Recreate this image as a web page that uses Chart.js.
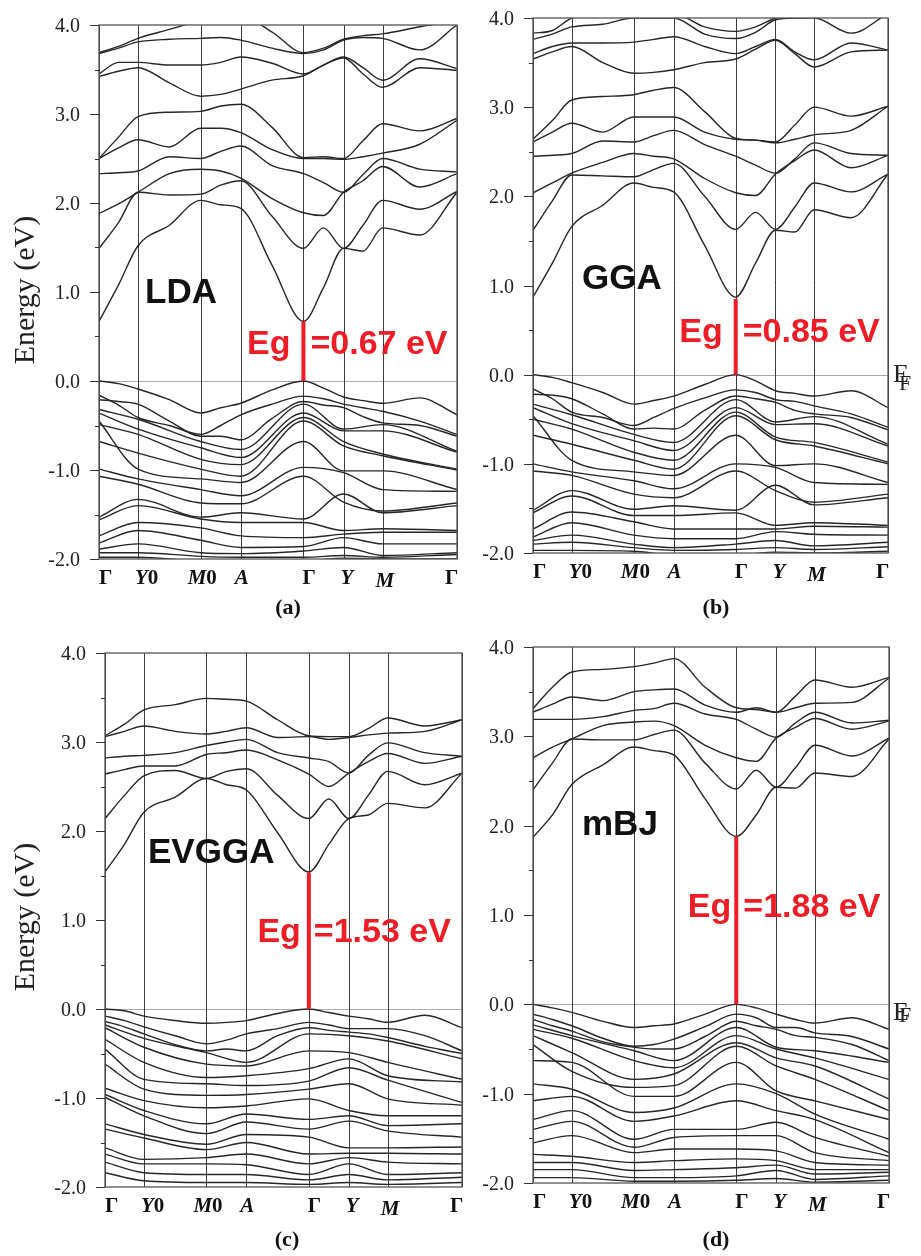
<!DOCTYPE html>
<html>
<head>
<meta charset="utf-8">
<title>Band structures</title>
<script src="https://cdn.jsdelivr.net/npm/chart.js@4.4.1/dist/chart.umd.min.js"></script>
<style>
  html, body { margin: 0; padding: 0; background: #fff; }
  #wrap { position: relative; width: 921px; height: 1256px; }
  #wrap canvas { position: absolute; left: 0; top: 0; }
</style>
</head>
<body>
<div id="wrap">
  <canvas id="ldaPlot" width="921" height="1256"></canvas>
  <canvas id="ggaPlot" width="921" height="1256"></canvas>
  <canvas id="evggaPlot" width="921" height="1256"></canvas>
  <canvas id="mbjPlot" width="921" height="1256"></canvas>
</div>
<script>
/* ==============================
   K-PATH
================================ */
const kLabels = ["Γ", "Y0", "M0", "A", "Γ", "Y", "M", "Γ"];
const kTicks = [0, 0.109, 0.284, 0.396, 0.571, 0.683, 0.792, 1];
const energyTicks = [-2, -1.5, -1, -0.5, 0, 0.5, 1, 1.5, 2, 2.5, 3, 3.5, 4];

// sampling along the path: every high-symmetry point plus the halfway point of each leg
const kGrid = [];
kTicks.forEach((k, i) => {
    kGrid.push(k);
    if (i < kTicks.length - 1) kGrid.push((k + kTicks[i + 1]) / 2);
});

/* ==============================
   BAND GAPS (eV)
================================ */
const methods = ["LDA", "GGA", "EVGGA", "mBJ"];
const gaps = [0.67, 0.85, 1.53, 1.88];

/* ==============================
   CONDUCTION BANDS
   one row per band, on kGrid: Γ . Y0 . M0 . A . Γ . Y . M . Γ
================================ */
const ldaConduction = [
    [0.67, 1.08, 1.52, 1.75, 2.03, 1.98, 1.94, 1.30, 0.67, 1.05, 1.49, 1.46, 1.72, 1.64, 2.12],
    [1.49, 1.78, 2.12, 2.09, 2.10, 2.20, 2.25, 1.85, 1.49, 1.72, 1.49, 1.75, 2.03, 1.93, 2.13],
    [1.88, 1.99, 2.12, 2.33, 2.38, 2.36, 2.28, 2.05, 1.89, 1.86, 2.12, 2.25, 2.41, 2.18, 2.33],
    [2.33, 2.34, 2.36, 2.52, 2.50, 2.58, 2.64, 2.42, 2.33, 2.23, 2.12, 2.32, 2.50, 2.38, 2.35],
    [2.50, 2.62, 2.71, 2.63, 2.84, 2.84, 2.79, 2.60, 2.50, 2.50, 2.49, 2.52, 2.56, 2.66, 2.93],
    [2.50, 2.74, 2.97, 3.02, 3.03, 3.09, 3.11, 2.85, 2.51, 2.52, 2.50, 2.70, 2.89, 2.81, 2.95],
    [3.42, 3.48, 3.52, 3.35, 3.20, 3.22, 3.28, 3.38, 3.43, 3.55, 3.63, 3.45, 3.30, 3.52, 3.49],
    [3.45, 3.58, 3.58, 3.55, 3.55, 3.58, 3.64, 3.57, 3.45, 3.55, 3.64, 3.52, 3.38, 3.62, 3.51],
    [3.68, 3.74, 3.81, 3.84, 3.85, 3.86, 3.83, 3.74, 3.68, 3.72, 3.83, 3.86, 3.85, 3.72, 4.00],
    [3.69, 3.76, 3.85, 3.95, 4.05, 4.08, 4.10, 3.92, 3.69, 3.74, 3.84, 3.88, 3.90, 3.98, 4.05]
];

const ggaConduction = [
    [0.87, 1.25, 1.66, 1.90, 2.15, 2.10, 2.05, 1.45, 0.87, 1.25, 1.62, 1.60, 1.85, 1.76, 2.25],
    [1.62, 1.95, 2.24, 2.23, 2.22, 2.30, 2.37, 2.00, 1.63, 1.82, 1.63, 1.88, 2.15, 2.05, 2.25],
    [2.04, 2.15, 2.26, 2.38, 2.48, 2.45, 2.42, 2.20, 2.04, 2.01, 2.25, 2.40, 2.52, 2.32, 2.46],
    [2.45, 2.46, 2.48, 2.62, 2.61, 2.68, 2.74, 2.58, 2.45, 2.35, 2.26, 2.42, 2.60, 2.48, 2.46],
    [2.61, 2.72, 2.82, 2.72, 2.89, 2.89, 2.89, 2.72, 2.64, 2.63, 2.60, 2.64, 2.69, 2.74, 3.01],
    [2.64, 2.85, 3.08, 3.12, 3.14, 3.19, 3.22, 2.95, 2.65, 2.63, 2.61, 2.80, 3.00, 2.90, 3.01],
    [3.54, 3.62, 3.68, 3.50, 3.38, 3.39, 3.42, 3.50, 3.54, 3.65, 3.75, 3.60, 3.45, 3.62, 3.64],
    [3.60, 3.68, 3.72, 3.72, 3.73, 3.76, 3.79, 3.68, 3.60, 3.68, 3.76, 3.62, 3.53, 3.72, 3.64],
    [3.76, 3.82, 3.90, 3.93, 4.00, 4.00, 4.00, 3.82, 3.77, 3.84, 3.98, 4.00, 4.00, 3.83, 4.05],
    [3.83, 3.86, 4.00, 4.05, 4.05, 4.05, 4.05, 3.90, 3.85, 3.90, 4.00, 4.05, 4.05, 4.05, 4.10]
];

const evggaConduction = [
    [1.54, 1.85, 2.21, 2.38, 2.59, 2.52, 2.46, 1.98, 1.54, 1.85, 2.14, 2.18, 2.31, 2.26, 2.65],
    [2.14, 2.40, 2.62, 2.68, 2.59, 2.67, 2.70, 2.40, 2.14, 2.36, 2.14, 2.40, 2.67, 2.52, 2.65],
    [2.64, 2.69, 2.73, 2.73, 2.86, 2.88, 2.91, 2.80, 2.64, 2.50, 2.65, 2.78, 2.87, 2.76, 2.84],
    [2.82, 2.84, 2.85, 2.88, 2.96, 3.00, 3.03, 2.88, 2.82, 2.78, 2.65, 2.85, 2.99, 2.88, 2.84],
    [3.06, 3.12, 3.18, 3.12, 3.09, 3.12, 3.16, 3.05, 3.06, 3.03, 3.05, 3.08, 3.10, 3.12, 3.25],
    [3.07, 3.20, 3.36, 3.42, 3.49, 3.48, 3.46, 3.25, 3.07, 3.06, 3.06, 3.15, 3.27, 3.18, 3.25]
];

const mbjConduction = [
    [1.87, 2.12, 2.46, 2.68, 2.88, 2.84, 2.79, 2.30, 1.88, 2.12, 2.43, 2.42, 2.59, 2.55, 2.97],
    [2.40, 2.70, 2.97, 2.96, 2.96, 3.02, 3.07, 2.70, 2.41, 2.62, 2.43, 2.65, 2.90, 2.78, 2.98],
    [2.76, 2.88, 2.97, 3.12, 3.16, 3.17, 3.12, 2.90, 2.76, 2.72, 2.98, 3.10, 3.20, 3.08, 3.17],
    [3.19, 3.19, 3.19, 3.22, 3.29, 3.31, 3.37, 3.25, 3.19, 3.08, 2.99, 3.15, 3.27, 3.15, 3.18],
    [3.27, 3.36, 3.44, 3.40, 3.50, 3.52, 3.53, 3.35, 3.27, 3.32, 3.27, 3.32, 3.37, 3.38, 3.65],
    [3.31, 3.55, 3.72, 3.75, 3.78, 3.82, 3.87, 3.55, 3.32, 3.30, 3.27, 3.45, 3.63, 3.55, 3.66]
];

/* ==============================
   VALENCE BANDS
   one row per band, at the high-symmetry points only: Γ Y0 M0 A Γ Y M Γ
================================ */
const ldaValence = [
    [0, -0.09, -0.36, -0.25, 0, -0.18, -0.25, -0.38],
    [-0.16, -0.41, -0.60, -0.38, -0.17, -0.26, -0.34, -0.60],
    [-0.21, -0.26, -0.62, -0.66, -0.23, -0.30, -0.47, -0.62],
    [-0.32, -0.43, -0.68, -0.77, -0.26, -0.54, -0.49, -0.79],
    [-0.36, -0.54, -0.75, -0.86, -0.36, -0.56, -0.56, -0.80],
    [-0.49, -0.60, -0.88, -0.94, -0.41, -0.68, -0.82, -0.99],
    [-0.68, -0.81, -0.99, -1.07, -0.45, -0.73, -0.84, -1.00],
    [-0.45, -0.99, -1.10, -1.14, -0.68, -1.01, -1.01, -1.22],
    [-0.99, -1.10, -1.22, -1.29, -0.97, -1.03, -1.22, -1.24],
    [-1.07, -1.16, -1.37, -1.38, -1.07, -1.36, -1.46, -1.37],
    [-1.53, -1.33, -1.53, -1.48, -1.55, -1.27, -1.48, -1.40],
    [-1.56, -1.40, -1.55, -1.59, -1.59, -1.68, -1.66, -1.68],
    [-1.74, -1.59, -1.65, -1.74, -1.76, -1.72, -1.70, -1.70],
    [-1.82, -1.68, -1.79, -1.87, -1.86, -1.76, -1.83, -1.83],
    [-1.89, -1.83, -1.93, -1.94, -1.91, -1.87, -1.96, -1.93],
    [-1.93, -1.93, -1.97, -1.98, -1.98, -1.96, -1.98, -1.95],
    [-1.98, -1.98, -2.02, -2.02, -2.02, -1.99, -2.00, -2.00]
];
// halfway values of the uppermost valence bands, one per leg
const ldaValenceMids = [
    [-0.03, -0.21, -0.30, -0.10, -0.08, -0.22, -0.19],
    [-0.27, -0.50, -0.50, -0.26, -0.20, -0.30, -0.45],
    [-0.23, -0.45, -0.62, -0.42, -0.27, -0.40, -0.50]
];

const ggaValence = [
    [0, -0.09, -0.33, -0.24, 0, -0.18, -0.24, -0.37],
    [-0.16, -0.42, -0.57, -0.38, -0.17, -0.28, -0.35, -0.59],
    [-0.22, -0.27, -0.61, -0.61, -0.24, -0.31, -0.44, -0.62],
    [-0.33, -0.45, -0.67, -0.76, -0.28, -0.53, -0.47, -0.78],
    [-0.37, -0.55, -0.74, -0.85, -0.37, -0.56, -0.55, -0.80],
    [-0.50, -0.61, -0.87, -0.96, -0.42, -0.70, -0.76, -0.98],
    [-0.68, -0.78, -0.96, -1.06, -0.46, -0.73, -0.80, -1.00],
    [-0.46, -0.96, -1.09, -1.13, -0.68, -1.02, -1.00, -1.21],
    [-1.00, -1.09, -1.19, -1.28, -1.00, -1.04, -1.21, -1.23],
    [-1.08, -1.13, -1.34, -1.38, -1.08, -1.30, -1.43, -1.34],
    [-1.52, -1.30, -1.51, -1.47, -1.52, -1.24, -1.46, -1.38],
    [-1.55, -1.36, -1.58, -1.58, -1.55, -1.69, -1.66, -1.69],
    [-1.73, -1.54, -1.65, -1.73, -1.73, -1.73, -1.70, -1.71],
    [-1.82, -1.66, -1.80, -1.84, -1.84, -1.76, -1.79, -1.80],
    [-1.86, -1.80, -1.90, -1.94, -1.90, -1.86, -1.92, -1.88],
    [-1.90, -1.88, -1.94, -1.97, -1.96, -1.94, -1.96, -1.93],
    [-1.97, -1.97, -1.98, -2.02, -2.02, -1.99, -2.00, -1.98]
];
const ggaValenceMids = [
    [-0.03, -0.20, -0.29, -0.11, -0.07, -0.21, -0.18],
    [-0.27, -0.48, -0.48, -0.26, -0.20, -0.30, -0.44],
    [-0.23, -0.44, -0.60, -0.40, -0.27, -0.40, -0.48]
];

const evggaValence = [
    [0, -0.08, -0.16, -0.13, 0, -0.08, -0.15, -0.21],
    [-0.08, -0.20, -0.39, -0.28, -0.15, -0.22, -0.22, -0.47],
    [-0.14, -0.28, -0.47, -0.47, -0.21, -0.26, -0.32, -0.50],
    [-0.18, -0.33, -0.49, -0.60, -0.28, -0.30, -0.36, -0.56],
    [-0.21, -0.43, -0.62, -0.64, -0.47, -0.49, -0.60, -0.79],
    [-0.34, -0.60, -0.77, -0.75, -0.67, -0.56, -0.75, -0.82],
    [-0.45, -0.79, -0.84, -0.86, -0.81, -0.66, -0.80, -1.05],
    [-0.62, -0.90, -0.97, -0.96, -0.90, -0.84, -1.01, -1.08],
    [-0.89, -1.03, -1.11, -1.09, -1.01, -1.14, -1.20, -1.20],
    [-0.96, -1.14, -1.29, -1.18, -1.24, -1.20, -1.31, -1.29],
    [-0.99, -1.20, -1.40, -1.27, -1.35, -1.26, -1.37, -1.44],
    [-1.29, -1.41, -1.52, -1.41, -1.44, -1.56, -1.56, -1.55],
    [-1.35, -1.45, -1.58, -1.50, -1.63, -1.62, -1.62, -1.63],
    [-1.56, -1.69, -1.67, -1.63, -1.74, -1.67, -1.72, -1.74],
    [-1.63, -1.74, -1.74, -1.75, -1.86, -1.74, -1.86, -1.84],
    [-1.72, -1.84, -1.86, -1.86, -1.92, -1.86, -1.92, -1.89],
    [-1.84, -1.93, -1.95, -1.95, -1.97, -1.95, -1.97, -1.95]
];
const evggaValenceMids = [
    [-0.02, -0.13, -0.15, -0.05, -0.04, -0.11, -0.07],
    [-0.13, -0.30, -0.35, -0.22, -0.18, -0.22, -0.30],
    [-0.20, -0.40, -0.45, -0.30, -0.24, -0.28, -0.42]
];

const mbjValence = [
    [0, -0.09, -0.26, -0.22, 0, -0.11, -0.21, -0.28],
    [-0.11, -0.24, -0.47, -0.39, -0.11, -0.26, -0.32, -0.50],
    [-0.17, -0.30, -0.48, -0.50, -0.19, -0.28, -0.37, -0.63],
    [-0.23, -0.35, -0.52, -0.63, -0.26, -0.48, -0.52, -0.65],
    [-0.28, -0.38, -0.63, -0.71, -0.35, -0.50, -0.60, -0.84],
    [-0.35, -0.54, -0.84, -0.78, -0.43, -0.60, -0.69, -1.06],
    [-0.45, -0.75, -0.93, -0.91, -0.47, -0.69, -0.84, -1.19],
    [-0.63, -0.65, -1.03, -1.03, -0.65, -0.97, -1.08, -1.29],
    [-0.89, -0.95, -1.21, -1.16, -0.89, -1.00, -1.23, -1.51],
    [-1.08, -1.03, -1.31, -1.25, -1.08, -1.19, -1.29, -1.66],
    [-1.29, -1.19, -1.51, -1.40, -1.40, -1.32, -1.49, -1.70],
    [-1.40, -1.31, -1.60, -1.49, -1.47, -1.47, -1.66, -1.75],
    [-1.55, -1.47, -1.66, -1.62, -1.62, -1.64, -1.77, -1.80],
    [-1.68, -1.70, -1.77, -1.75, -1.73, -1.75, -1.85, -1.85],
    [-1.77, -1.77, -1.86, -1.85, -1.83, -1.80, -1.90, -1.88],
    [-1.85, -1.85, -1.94, -1.94, -1.92, -1.86, -1.96, -1.92],
    [-1.94, -1.94, -1.98, -1.98, -1.97, -1.95, -1.99, -1.97]
];
const mbjValenceMids = [
    [-0.04, -0.19, -0.24, -0.11, -0.04, -0.17, -0.15],
    [-0.17, -0.38, -0.45, -0.25, -0.15, -0.26, -0.36],
    [-0.24, -0.42, -0.50, -0.36, -0.24, -0.35, -0.45]
];

/* ==============================
   PANEL LAYOUT (page pixels)
================================ */
const PAGE_W = 921, PAGE_H = 1256;
const SERIF = '"Liberation Serif", "Times New Roman", serif';
const SANS = '"Liberation Sans", Arial, sans-serif';
const RED = "#ee1c25";

const kLabelShift = [0, -3, -13, -6, -1, -3, -7, -12];
const kLabelDrop = [0, 0, 0, 0, 0, 0, 3, 0];

const panels = [
    {
        canvas: "ldaPlot", cond: ldaConduction, val: ldaValence, mids: ldaValenceMids,
        area: { left: 99, top: 25, right: 457, bottom: 559 },
        nameAt: [145, 303], egBase: 353.5, egPad: [13, 7],
        caption: "(a)", captionAt: [288, 614], energyAt: [26, 290], fermiTag: null
    },
    {
        canvas: "ggaPlot", cond: ggaConduction, val: ggaValence, mids: ggaValenceMids,
        area: { left: 533, top: 18, right: 888, bottom: 553 },
        nameAt: [582, 289], egBase: 342, egPad: [13, 7],
        caption: "(b)", captionAt: [716, 614], energyAt: null, fermiTag: [893, 382, 390]
    },
    {
        canvas: "evggaPlot", cond: evggaConduction, val: evggaValence, mids: evggaValenceMids,
        area: { left: 105, top: 653, right: 462, bottom: 1187 },
        nameAt: [148, 863], egBase: 942, egPad: [8, 5],
        caption: "(c)", captionAt: [287, 1246], energyAt: [26, 917], fermiTag: null
    },
    {
        canvas: "mbjPlot", cond: mbjConduction, val: mbjValence, mids: mbjValenceMids,
        area: { left: 533, top: 647, right: 889, bottom: 1183 },
        nameAt: [582, 835], egBase: 917, egPad: [5, 7],
        caption: "(d)", captionAt: [716, 1246], energyAt: null, fermiTag: [893, 1020, 1022]
    }
];

/* ==============================
   BUILD BAND LINES
================================ */
function buildBands(cond, valRows, valMids) {
    const bands = cond.map(row => row.map((e, i) => ({ x: kGrid[i], y: e })));

    valRows.forEach((row, b) => {
        const pts = [];
        row.forEach((e, i) => {
            pts.push({ x: kTicks[i], y: e });
            if (valMids[b] && i < row.length - 1) {
                pts.push({ x: kGrid[2 * i + 1], y: valMids[b][i] });
            }
        });
        bands.push(pts);
    });
    return bands;
}

/* ==============================
   FRAME, K-LINES, TEXT
================================ */
function seg(ctx, x1, y1, x2, y2) {
    ctx.beginPath();
    ctx.moveTo(x1, y1);
    ctx.lineTo(x2, y2);
    ctx.stroke();
}

const panelDecor = {
    id: "panelDecor",

    beforeDatasetsDraw(chart) {
        const { ctx, chartArea: a, scales: { x, y } } = chart;
        ctx.save();

        // Fermi level
        ctx.strokeStyle = "#a9a9a9";
        ctx.lineWidth = 1;
        const yF = Math.round(y.getPixelForValue(0)) + 0.5;
        seg(ctx, a.left, yF, a.right, yF);

        // high-symmetry k-points
        ctx.strokeStyle = "#3c3c3c";
        kTicks.forEach(k => {
            const px = Math.round(x.getPixelForValue(k)) + 0.5;
            seg(ctx, px, a.top, px, a.bottom);
        });
        ctx.restore();
    },

    afterDatasetsDraw(chart, args, p) {
        const { ctx, chartArea: a, scales: { x, y } } = chart;
        ctx.save();

        // frame
        ctx.strokeStyle = "#555";
        ctx.lineWidth = 1.3;
        ctx.strokeRect(a.left, a.top, a.right - a.left, a.bottom - a.top);

        // energy ticks and labels
        ctx.lineWidth = 1;
        ctx.strokeStyle = "#333";
        ctx.fillStyle = "#222";
        ctx.font = `20px ${SERIF}`;
        ctx.textAlign = "right";
        ctx.textBaseline = "middle";
        energyTicks.forEach(v => {
            const py = Math.round(y.getPixelForValue(v)) + 0.5;
            const major = Number.isInteger(v);
            seg(ctx, a.left - (major ? 9 : 4), py, a.left, py);
            if (major) ctx.fillText(v.toFixed(1), a.left - 19, py + 1);
        });

        // k-point labels
        ctx.textAlign = "left";
        ctx.textBaseline = "alphabetic";
        ctx.fillStyle = "#111";
        kLabels.forEach((lab, i) => {
            let cx = x.getPixelForValue(kTicks[i]) + kLabelShift[i];
            for (const ch of lab) {
                ctx.font = (/[A-Z]/.test(ch) ? "italic " : "") + `bold 21px ${SERIF}`;
                ctx.fillText(ch, cx, a.bottom + 25 + kLabelDrop[i]);
                cx += ctx.measureText(ch).width;
            }
        });

        // method name
        ctx.font = `bold 35px ${SANS}`;
        ctx.fillStyle = "#111";
        ctx.fillText(p.name, p.nameAt[0], p.nameAt[1]);

        // gap label, split around the red bar
        const barX = x.getPixelForValue(kTicks[4]);
        ctx.font = `bold 34px ${SANS}`;
        ctx.fillStyle = RED;
        ctx.textAlign = "right";
        ctx.fillText("Eg", barX - p.egPad[0], p.egBase);
        ctx.textAlign = "left";
        ctx.fillText(`=${p.gap.toFixed(2)} eV`, barX + p.egPad[1], p.egBase);

        // panel caption
        ctx.font = `bold 22px ${SERIF}`;
        ctx.fillStyle = "#111";
        ctx.textAlign = "center";
        ctx.fillText(p.caption, p.captionAt[0], p.captionAt[1]);

        // axis title
        if (p.energyAt) {
            ctx.save();
            ctx.translate(p.energyAt[0], p.energyAt[1]);
            ctx.rotate(-Math.PI / 2);
            ctx.font = `30px ${SERIF}`;
            ctx.textAlign = "center";
            ctx.textBaseline = "middle";
            ctx.fillStyle = "#222";
            ctx.fillText("Energy (eV)", 0, 0);
            ctx.restore();
        }

        // Fermi level tag
        if (p.fermiTag) {
            ctx.textAlign = "left";
            ctx.fillStyle = "#222";
            ctx.font = `26px ${SERIF}`;
            ctx.fillText("E", p.fermiTag[0], p.fermiTag[1]);
            ctx.font = `22px ${SERIF}`;
            ctx.fillText("F", p.fermiTag[0] + 6, p.fermiTag[2]);
        }

        ctx.restore();
    }
};

/* ==============================
   RENDER PANELS
================================ */
panels.forEach((p, idx) => {
    const bands = buildBands(p.cond, p.val, p.mids);

    // index 0 is painted last, so the gap bar sits on top of the bands
    const datasets = [{
        data: [{ x: kTicks[4], y: 0 }, { x: kTicks[4], y: gaps[idx] }],
        borderColor: RED,
        borderWidth: 4,
        borderCapStyle: "butt",
        tension: 0,
        cubicInterpolationMode: "default"
    }].concat(bands.map(pts => ({
        data: pts,
        borderColor: "#262626",
        borderWidth: 1.4,
        cubicInterpolationMode: "monotone"
    })));

    new Chart(document.getElementById(p.canvas), {
        type: "line",
        data: { datasets },
        options: {
            responsive: false,
            animation: false,
            devicePixelRatio: 1,
            events: [],
            layout: {
                padding: {
                    left: p.area.left,
                    top: p.area.top,
                    right: PAGE_W - p.area.right,
                    bottom: PAGE_H - p.area.bottom
                }
            },
            elements: { point: { radius: 0 } },
            scales: {
                x: { type: "linear", min: 0, max: 1, display: false },
                y: { type: "linear", min: -2, max: 4, display: false }
            },
            plugins: {
                legend: { display: false },
                tooltip: { enabled: false },
                panelDecor: Object.assign({ name: methods[idx], gap: gaps[idx] }, p)
            }
        },
        plugins: [panelDecor]
    });
});
</script>
</body>
</html>
